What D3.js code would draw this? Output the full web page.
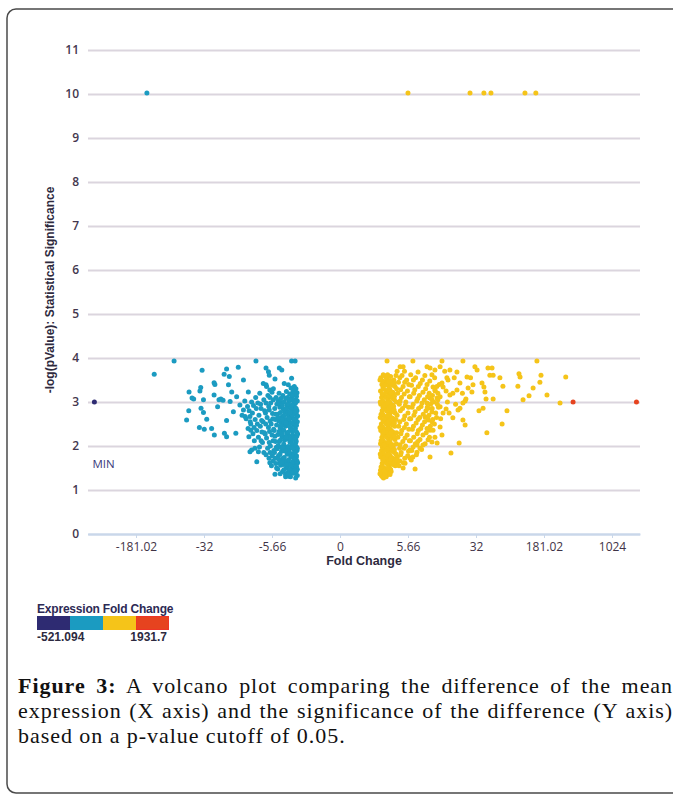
<!DOCTYPE html>
<html>
<head>
<meta charset="utf-8">
<script src="https://cdn.jsdelivr.net/npm/d3@7"></script>
<style>
  body { margin: 0; background: #fff; }
  svg { display: block; }
</style>
</head>
<body>
<svg id="chart"></svg>
<script>
const width = 673;
const height = 798;

// axis ticks (x is log2 fold change, labelled as fold change)
const yTicks = [0, 1, 2, 3, 4, 5, 6, 7, 8, 9, 10, 11];
const xTickValues = [-7.5, -5, -2.5, 0, 2.5, 5, 7.5, 10];
const xTickLabels = ["-181.02", "-32", "-5.66", "0", "5.66", "32", "181.02", "1024"];

// legend
const legendColors = ["#2e2b72", "#1b9bc1", "#f5c419", "#e6431f"];
const legendBreaks = [-9, 0, 8.45];
const legendLabels = ["-521.094", "1931.7"];

// genes: [log2 fold change, -log10 p]
const minGene = [[-9.03, 3.0]];
const maxGenes = [[8.57, 3.0], [10.9, 3.0]];

const topGenes = [
  [-7.1, 10.02], [2.5, 10.02], [4.78, 10.02], [5.29, 10.02], [5.55, 10.02], [6.8, 10.02], [7.2, 10.02]
];

const downGenes = [
  [-6.1, 3.93], [-6.83, 3.63], [-5.07, 3.72], [-5.55, 3.23], [-5.64, 2.59], [-5.56, 2.8], [-5.15, 3.25],
  [-5.12, 3.33], [-5.44, 3.09], [-5.38, 3.07], [-5.02, 3.05], [-5.11, 2.86], [-5.02, 2.76], [-4.9, 2.61],
  [-5.17, 2.42], [-4.99, 2.38], [-4.72, 2.4], [-4.62, 2.25], [-4.63, 3.44], [-4.6, 3.4], [-4.63, 3.16],
  [-4.45, 3.05], [-4.38, 3.07], [-4.3, 3.04], [-4.5, 2.89], [-4.26, 3.63], [-4.17, 3.75], [-4.07, 3.58],
  [-4.1, 3.39], [-3.74, 3.79], [-3.98, 3.23], [-4.04, 3.01], [-3.92, 2.78], [-4.17, 2.58], [-4.25, 2.29],
  [-4.17, 2.21], [-3.83, 2.29], [-3.55, 3.5], [-3.68, 2.93], [-3.55, 2.82], [-3.8, 3.12], [-3.37, 3.23],
  [-3.31, 2.67], [-3.49, 2.67], [-3.28, 2.36], [-3.35, 2.21], [-3.31, 1.87], [-3.25, 1.91], [-3.13, 1.95],
  [-3.0, 1.87], [-3.06, 1.64], [-3.09, 3.93], [-2.72, 3.77], [-2.63, 3.69], [-2.6, 3.61], [-2.23, 3.77],
  [-2.14, 3.73], [-2.39, 3.52], [-1.78, 3.93], [-1.65, 3.93], [-1.78, 3.54], [-2.05, 3.42], [-1.9, 3.39],
  [-2.82, 3.42], [-2.72, 3.39], [-1.68, 3.35], [-1.62, 3.3], [-1.8, 3.32],
  [-1.58, 3.21], [-1.62, 3.05], [-1.66, 2.88], [-1.6, 2.71], [-1.57, 2.55], [-1.64, 2.4], [-1.59, 2.22],
  [-1.63, 2.07], [-1.58, 1.9], [-1.61, 1.74], [-1.65, 1.58], [-1.6, 1.43], [-1.57, 1.33],
  [-1.72, 3.26], [-1.76, 3.12], [-1.7, 2.97], [-1.74, 2.81], [-1.78, 2.64], [-1.71, 2.49], [-1.75, 2.33],
  [-1.69, 2.16], [-1.77, 2.0], [-1.72, 1.83], [-1.7, 1.67], [-1.76, 1.51], [-1.73, 1.38],
  [-1.85, 3.18], [-1.88, 3.02], [-1.83, 2.86], [-1.9, 2.7], [-1.86, 2.55], [-1.82, 2.39], [-1.89, 2.24],
  [-1.84, 2.09], [-1.87, 1.93], [-1.81, 1.77], [-1.91, 1.62], [-1.85, 1.46], [-1.88, 1.31],
  [-1.97, 3.24], [-2.0, 3.08], [-1.95, 2.93], [-2.03, 2.77], [-1.98, 2.6], [-2.01, 2.45], [-1.96, 2.29],
  [-2.04, 2.13], [-1.99, 1.97], [-1.94, 1.81], [-2.02, 1.66], [-1.97, 1.5], [-2.0, 1.36],
  [-2.1, 3.15], [-2.14, 2.99], [-2.08, 2.83], [-2.12, 2.67], [-2.16, 2.52], [-2.09, 2.36], [-2.13, 2.2],
  [-2.07, 2.04], [-2.15, 1.88], [-2.1, 1.72], [-2.18, 1.56], [-2.11, 1.42],
  [-2.24, 3.2], [-2.27, 3.03], [-2.21, 2.88], [-2.3, 2.72], [-2.25, 2.57], [-2.2, 2.41], [-2.28, 2.26],
  [-2.23, 2.1], [-2.31, 1.94], [-2.26, 1.78], [-2.22, 1.62], [-2.29, 1.48],
  [-1.6, 3.13], [-1.64, 2.97], [-1.58, 2.8], [-1.62, 2.63], [-1.67, 2.47], [-1.59, 2.31], [-1.63, 2.15],
  [-1.6, 1.98], [-1.66, 1.82], [-1.58, 1.66], [-1.62, 1.5], [-1.64, 1.38],
  [-1.79, 3.19], [-1.73, 3.04], [-1.8, 2.89], [-1.77, 2.72], [-1.69, 2.57], [-1.8, 2.41], [-1.74, 2.25],
  [-1.79, 2.08], [-1.68, 1.92], [-1.79, 1.75], [-1.73, 1.59], [-1.81, 1.44],
  [-1.93, 3.1], [-1.91, 2.95], [-1.93, 2.78], [-1.88, 2.62], [-1.94, 2.47], [-1.91, 2.31], [-1.93, 2.16],
  [-1.9, 1.99], [-1.95, 1.85], [-1.89, 1.69], [-1.93, 1.54], [-1.92, 1.4],
  [-2.05, 3.0], [-2.06, 2.69], [-2.05, 2.52], [-2.07, 2.36], [-2.03, 2.21], [-2.06, 1.89], [-2.05, 1.74],
  [-2.07, 1.58], [-2.06, 1.46],
  [-2.18, 3.08], [-2.19, 2.76], [-2.2, 2.6], [-2.17, 2.45], [-2.19, 2.29], [-2.2, 2.13], [-2.17, 1.97],
  [-2.21, 1.81], [-2.19, 1.66],
  [-1.63, 1.27], [-1.82, 1.3], [-2.0, 1.3], [-2.2, 1.37], [-2.39, 1.36], [-1.84, 1.45],
  [-2.35, 3.1], [-2.4, 2.85], [-2.38, 2.6], [-2.42, 2.35], [-2.37, 2.1], [-2.41, 1.85], [-2.36, 1.6],
  [-2.5, 3.22], [-2.55, 2.98], [-2.48, 2.74], [-2.53, 2.5], [-2.5, 2.25], [-2.56, 2.0], [-2.49, 1.78],
  [-2.52, 1.55], [-2.65, 3.15], [-2.62, 2.9], [-2.68, 2.65], [-2.63, 2.42], [-2.7, 2.18], [-2.66, 1.95],
  [-2.61, 1.72], [-2.8, 3.05], [-2.77, 2.8], [-2.83, 2.55], [-2.78, 2.3], [-2.85, 2.08], [-2.8, 1.85],
  [-2.95, 3.2], [-2.92, 2.95], [-2.98, 2.7], [-2.93, 2.45], [-3.0, 2.2], [-2.96, 1.98],
  [-3.1, 3.1], [-3.08, 2.85], [-3.12, 2.6], [-3.06, 2.35], [-3.15, 2.12],
  [-3.25, 3.0], [-3.22, 2.75], [-3.28, 2.5], [-3.2, 2.28], [-3.4, 2.9], [-3.45, 2.62], [-3.38, 2.4],
  [-2.45, 3.3], [-2.7, 3.35], [-2.58, 3.27],
  [-2.32, 2.95], [-2.36, 2.72], [-2.33, 2.48], [-2.39, 2.22], [-2.34, 1.97], [-2.38, 1.72], [-2.33, 1.5],
  [-2.45, 3.05], [-2.47, 2.62], [-2.44, 2.38], [-2.46, 2.12], [-2.43, 1.9], [-2.46, 1.66], [-2.58, 3.1],
  [-2.6, 2.82], [-2.57, 2.57], [-2.59, 2.33], [-2.6, 2.08], [-2.57, 1.85], [-2.58, 1.62],
  [-2.72, 2.98], [-2.74, 2.75], [-2.73, 2.5], [-2.75, 2.27], [-2.72, 1.8], [-2.9, 2.85], [-2.88, 2.58],
  [-2.87, 2.32], [-2.9, 2.12], [-3.02, 2.98], [-3.04, 2.5], [-3.18, 2.92], [-3.16, 2.42], [-3.34, 2.8],
  [-3.3, 2.55], [-3.5, 3.02], [-3.6, 2.7],
  [-1.57, 3.02], [-1.61, 2.85], [-1.56, 2.68], [-1.6, 2.47], [-1.56, 2.27], [-1.61, 2.11], [-1.57, 1.95],
  [-1.6, 1.78], [-1.56, 1.62], [-1.6, 1.54], [-1.57, 1.47],
  [-1.67, 3.18], [-1.66, 3.0], [-1.65, 2.78], [-1.68, 2.6], [-1.66, 2.36], [-1.64, 2.19], [-1.67, 2.03],
  [-1.65, 1.86], [-1.68, 1.7], [-1.66, 1.44],
  [-1.75, 3.15], [-1.77, 2.93], [-1.75, 2.7], [-1.78, 2.52], [-1.76, 2.15], [-1.74, 1.95], [-1.77, 1.79],
  [-1.75, 1.63], [-1.78, 1.4],
  [-1.85, 3.05], [-1.84, 2.76], [-1.87, 2.46], [-1.85, 2.17], [-1.86, 1.86], [-1.84, 1.56], [-1.9, 1.36],
  [-1.98, 2.85], [-1.99, 2.53], [-1.97, 2.2], [-2.0, 1.9], [-1.98, 1.58],
  [-2.12, 2.92], [-2.13, 2.6], [-2.14, 2.28], [-2.11, 1.96], [-2.13, 1.64],
  [-2.26, 2.98], [-2.27, 2.65], [-2.24, 2.33], [-2.27, 2.01], [-2.25, 1.7]
];

const upGenes = [
  [1.73, 3.93], [2.68, 3.93], [3.75, 3.93], [4.52, 3.93], [7.24, 3.93], [2.21, 3.8], [2.32, 3.8],
  [3.2, 3.8], [3.31, 3.77], [3.49, 3.73], [3.68, 3.8], [4.04, 3.73], [4.3, 3.68], [4.96, 3.8],
  [5.04, 3.73], [5.44, 3.77], [5.59, 3.77], [5.51, 3.61], [5.63, 3.61], [5.88, 3.55], [6.58, 3.64],
  [6.62, 3.57], [7.39, 3.61], [8.3, 3.57], [7.35, 3.45], [7.1, 3.32], [6.54, 3.36], [5.99, 3.36],
  [7.61, 3.16], [6.95, 3.14], [6.73, 3.05], [8.09, 2.98], [5.63, 3.07], [5.37, 3.07], [5.26, 2.86],
  [5.11, 2.8], [6.14, 2.8], [5.96, 2.5], [5.4, 2.3], [4.63, 3.07], [4.6, 3.02], [4.52, 2.98],
  [4.34, 2.82], [4.41, 2.86], [4.52, 2.59], [4.6, 2.48], [4.01, 2.75], [4.15, 2.64], [3.9, 2.84],
  [3.68, 2.89], [3.79, 2.75], [4.71, 3.32], [4.85, 3.23], [4.89, 3.39], [5.22, 3.43], [5.29, 3.34],
  [5.33, 3.23], [4.67, 3.57], [4.41, 3.43], [4.3, 3.27], [4.15, 3.2], [4.04, 3.16], [3.93, 3.55],
  [3.97, 3.5], [3.75, 3.43], [3.79, 3.34], [3.42, 3.34], [3.49, 3.27], [3.6, 3.2], [3.57, 3.09],
  [3.6, 3.05], [3.31, 3.09], [3.38, 3.05], [3.2, 2.98], [3.24, 2.86], [3.38, 2.77], [3.13, 2.66],
  [3.24, 2.59], [3.38, 2.55], [3.31, 2.36], [3.42, 2.36], [3.68, 2.43], [3.75, 2.25], [3.49, 2.2],
  [3.57, 2.07], [3.24, 2.14], [3.38, 2.09], [3.05, 2.02], [2.94, 1.95], [2.83, 1.86], [2.57, 1.91],
  [2.57, 1.73], [2.68, 1.75], [2.39, 1.61], [2.02, 1.64], [2.1, 1.61], [2.83, 2.02], [2.32, 1.5],
  [2.76, 1.48], [3.31, 1.75], [4.08, 1.84], [4.38, 2.07],
  [1.5, 3.55], [1.54, 3.4], [1.49, 3.25], [1.53, 3.1], [1.5, 2.95], [1.55, 2.8], [1.48, 2.65],
  [1.52, 2.5], [1.5, 2.35], [1.54, 2.2], [1.49, 2.05], [1.53, 1.9], [1.5, 1.75], [1.55, 1.6],
  [1.49, 1.45], [1.52, 1.33],
  [1.62, 3.6], [1.66, 3.45], [1.6, 3.3], [1.64, 3.15], [1.61, 3.0], [1.67, 2.85], [1.6, 2.7],
  [1.65, 2.55], [1.62, 2.4], [1.66, 2.25], [1.6, 2.1], [1.64, 1.95], [1.61, 1.8], [1.67, 1.65],
  [1.62, 1.5], [1.65, 1.38],
  [1.74, 3.52], [1.78, 3.37], [1.72, 3.22], [1.76, 3.07], [1.73, 2.92], [1.79, 2.77], [1.72, 2.62],
  [1.77, 2.47], [1.74, 2.32], [1.78, 2.17], [1.72, 2.02], [1.76, 1.87], [1.73, 1.72], [1.79, 1.57],
  [1.74, 1.42], [1.7, 1.3],
  [1.86, 3.58], [1.9, 3.42], [1.84, 3.27], [1.88, 3.12], [1.85, 2.97], [1.91, 2.82], [1.84, 2.67],
  [1.89, 2.52], [1.86, 2.37], [1.9, 2.22], [1.84, 2.07], [1.88, 1.92], [1.85, 1.77], [1.91, 1.62],
  [1.86, 1.47],
  [1.98, 3.5], [2.02, 3.35], [1.96, 3.2], [2.0, 3.05], [1.97, 2.9], [2.03, 2.75], [1.96, 2.6],
  [2.01, 2.45], [1.98, 2.3], [2.02, 2.15], [1.96, 2.0], [2.0, 1.85], [1.97, 1.7], [2.03, 1.55],
  [1.56, 3.48], [1.58, 3.33], [1.55, 3.18], [1.57, 3.03], [1.58, 2.88], [1.56, 2.73], [1.58, 2.58],
  [1.56, 2.43], [1.57, 2.28], [1.58, 2.13], [1.56, 1.98], [1.58, 1.83], [1.57, 1.68], [1.56, 1.53],
  [1.58, 1.4],
  [1.69, 3.55], [1.7, 3.4], [1.68, 3.25], [1.7, 3.1], [1.69, 2.95], [1.71, 2.8], [1.68, 2.65],
  [1.7, 2.5], [1.69, 2.35], [1.71, 2.2], [1.68, 2.05], [1.7, 1.9], [1.69, 1.75], [1.71, 1.6],
  [1.68, 1.46],
  [1.81, 3.46], [1.82, 3.3], [1.8, 3.15], [1.82, 3.0], [1.81, 2.85], [1.83, 2.7], [1.8, 2.55],
  [1.82, 2.4], [1.81, 2.25], [1.83, 2.1], [1.8, 1.95], [1.82, 1.8], [1.81, 1.65], [1.8, 1.52],
  [1.93, 3.38], [1.94, 3.22], [1.93, 3.08], [1.94, 2.93], [1.92, 2.78], [1.94, 2.63], [1.93, 2.48],
  [1.92, 2.33], [1.94, 2.18], [1.93, 2.03], [1.92, 1.88], [1.94, 1.73], [1.93, 1.58],
  [1.6, 1.27], [1.72, 1.34], [1.56, 1.3], [1.84, 1.35], [1.65, 1.39], [1.47, 3.5],
  [2.1, 3.7], [2.15, 3.45], [2.12, 3.2], [2.18, 2.95], [2.1, 2.7], [2.16, 2.45], [2.13, 2.2],
  [2.19, 1.95], [2.11, 1.75], [2.17, 1.55],
  [2.28, 3.6], [2.32, 3.35], [2.26, 3.1], [2.3, 2.85], [2.34, 2.6], [2.27, 2.35], [2.31, 2.1],
  [2.25, 1.85], [2.33, 1.62],
  [2.45, 3.5], [2.48, 3.25], [2.42, 3.0], [2.5, 2.75], [2.44, 2.5], [2.47, 2.25], [2.41, 2.0],
  [2.49, 1.78],
  [2.6, 3.62], [2.63, 3.38], [2.58, 3.12], [2.65, 2.88], [2.6, 2.62], [2.66, 2.38], [2.59, 2.12],
  [2.64, 1.9], [2.62, 1.68],
  [2.78, 3.55], [2.75, 3.28], [2.82, 3.02], [2.76, 2.78], [2.8, 2.52], [2.84, 2.28], [2.77, 2.05],
  [2.81, 1.8],
  [2.95, 3.42], [2.92, 3.15], [2.98, 2.9], [2.93, 2.65], [2.97, 2.4], [2.94, 2.15], [3.0, 1.92],
  [3.12, 3.6], [3.15, 3.3], [3.1, 3.05], [3.16, 2.8], [3.11, 2.55], [3.17, 2.3], [3.13, 2.05],
  [3.3, 3.48], [3.28, 3.2], [3.33, 2.95], [3.27, 2.7], [3.32, 2.45], [3.29, 2.2],
  [3.48, 3.55], [3.5, 3.25], [3.45, 3.0], [3.52, 2.75], [3.47, 2.5],
  [3.65, 3.4], [3.68, 3.12], [3.62, 2.88], [3.7, 2.62],
  [1.48, 3.0], [1.51, 2.72], [1.47, 2.42], [1.51, 2.12], [1.48, 1.82], [1.51, 1.52], [1.47, 1.37],
  [1.59, 3.62], [1.63, 3.38], [1.6, 2.92], [1.63, 2.62], [1.6, 2.32], [1.63, 2.02], [1.6, 1.72],
  [1.63, 1.43],
  [1.75, 3.62], [1.77, 3.28], [1.75, 2.98], [1.76, 2.7], [1.75, 2.4], [1.77, 2.09], [1.75, 1.8],
  [1.77, 1.5],
  [1.87, 3.48], [1.88, 3.2], [1.87, 2.9], [1.88, 2.6], [1.87, 2.3], [1.88, 2.0], [1.87, 1.7],
  [1.88, 1.42],
  [1.99, 3.42], [2.0, 3.13], [1.99, 2.82], [2.0, 2.52], [1.99, 2.22], [2.0, 1.92], [1.99, 1.62],
  [2.06, 3.6], [2.08, 3.3], [2.07, 3.0], [2.06, 2.6], [2.08, 2.3], [2.07, 2.05], [2.06, 1.82],
  [2.08, 1.68],
  [2.2, 3.55], [2.23, 3.28], [2.21, 3.02], [2.22, 2.8], [2.2, 2.55], [2.24, 2.28], [2.21, 2.03],
  [2.23, 1.8], [2.2, 1.66],
  [2.37, 3.7], [2.38, 3.45], [2.36, 3.18], [2.4, 2.92], [2.38, 2.68], [2.37, 2.42], [2.39, 2.18],
  [2.36, 1.95], [2.38, 1.72],
  [2.53, 3.4], [2.55, 3.12], [2.52, 2.88], [2.56, 2.62], [2.53, 2.38], [2.55, 2.12], [2.52, 1.88],
  [2.7, 3.5], [2.71, 3.2], [2.69, 2.95], [2.72, 2.7], [2.7, 2.45], [2.71, 2.2], [2.69, 1.98],
  [2.87, 3.68], [2.88, 3.35], [2.86, 3.08], [2.89, 2.85], [2.87, 2.6], [2.88, 2.35], [2.86, 2.1],
  [3.03, 3.5], [3.05, 3.22], [3.02, 2.98], [3.06, 2.72], [3.03, 2.48], [3.05, 2.25],
  [3.2, 3.4], [3.22, 3.12], [3.21, 2.88], [3.23, 2.62], [3.2, 2.4],
  [3.38, 3.62], [3.4, 3.15], [3.39, 2.85], [3.41, 2.6],
  [3.56, 3.35], [3.58, 2.95], [3.55, 2.65],
  [3.85, 3.7], [3.9, 3.25], [3.95, 3.0], [4.2, 3.55], [4.25, 2.95], [4.5, 3.2], [4.8, 3.55]
];

const captionLines = [
  ["Figure 3:", " A volcano plot comparing the difference of the mean"],
  ["", "expression (X axis) and the significance of the difference (Y axis)"],
  ["", "based on a p-value cutoff of 0.05."]
];

const svg = d3.select("#chart").attr("width", width).attr("height", height);

// frame
svg.append("rect")
  .attr("x", 7).attr("y", 9)
  .attr("width", 690).attr("height", 784)
  .attr("rx", 9)
  .attr("fill", "none")
  .attr("stroke", "#4a4a4a")
  .attr("stroke-width", 1.5);

const x = d3.scaleLinear().domain([-9.265, 11.03]).range([88, 640]);
const y = d3.scaleLinear().domain([0, 11]).range([534, 50]);
const color = d3.scaleThreshold().domain(legendBreaks).range(legendColors);

const tickFont = "'Open Sans', sans-serif";
const labelFont = "'Liberation Sans Narrow', 'Liberation Sans', Arial, sans-serif";

// y grid + labels
const yAxis = d3.axisLeft(y)
  .tickValues(yTicks)
  .tickSize(-(640 - 88))
  .tickPadding(9)
  .tickFormat(d3.format("d"));

const gy = svg.append("g").attr("transform", "translate(88,0)").call(yAxis);
gy.select(".domain").remove();
gy.selectAll(".tick line")
  .attr("stroke", d => d === 0 ? "#c9d7ea" : "#dbd5de")
  .attr("stroke-width", 2);
gy.selectAll(".tick text")
  .attr("fill", "#44374e")
  .style("font-family", tickFont)
  .style("font-size", "12px")
  .style("font-weight", 600);

// x axis
const xAxis = d3.axisBottom(x)
  .tickValues(xTickValues)
  .tickFormat((d, i) => xTickLabels[i])
  .tickSize(4)
  .tickSizeOuter(0)
  .tickPadding(4);

const gx = svg.append("g").attr("transform", "translate(0,534)").call(xAxis);
gx.select(".domain").attr("stroke", "#c9d7ea").attr("stroke-width", 2);
gx.selectAll(".tick line").attr("stroke", "#c9d7ea");
gx.selectAll(".tick text")
  .attr("fill", "#3f3346")
  .style("font-family", tickFont)
  .style("font-size", "12px");

svg.append("text")
  .attr("x", 364).attr("y", 565)
  .attr("text-anchor", "middle")
  .attr("fill", "#2e2a3e")
  .style("font-family", labelFont)
  .style("font-size", "12.5px")
  .style("font-weight", "bold")
  .text("Fold Change");

svg.append("text")
  .attr("transform", "translate(54,290) rotate(-90)")
  .attr("text-anchor", "middle")
  .attr("fill", "#2e2a3e")
  .style("font-family", labelFont)
  .style("font-size", "12px")
  .style("font-weight", "bold")
  .text("-log(pValue): Statistical Significance");

// points
const points = [].concat(minGene, downGenes, topGenes, upGenes, maxGenes);
svg.append("g")
  .selectAll("circle")
  .data(points)
  .join("circle")
  .attr("cx", d => x(d[0]))
  .attr("cy", d => y(d[1]))
  .attr("r", 2.5)
  .attr("fill", d => color(d[0]));

svg.append("text")
  .attr("x", x(minGene[0][0]) - 2).attr("y", 468)
  .attr("fill", "#3b3a7a")
  .style("font-family", tickFont)
  .style("font-size", "11.5px")
  .text("MIN");

// legend
const legend = svg.append("g").attr("transform", "translate(37,0)");
legend.append("text")
  .attr("x", 0).attr("y", 613)
  .attr("fill", "#2d2a55")
  .style("font-family", "'Liberation Sans', Arial, sans-serif")
  .style("font-size", "12px")
  .style("font-weight", "bold")
  .style("letter-spacing", "-0.2px")
  .text("Expression Fold Change");

const segW = 33;
legend.selectAll("rect.seg")
  .data(legendColors)
  .join("rect")
  .attr("class", "seg")
  .attr("x", (d, i) => i * segW)
  .attr("y", 616)
  .attr("width", segW)
  .attr("height", 14)
  .attr("fill", d => d);
legend.append("rect")
  .attr("x", 3 * segW + 0.5).attr("y", 616.5)
  .attr("width", segW - 1).attr("height", 13)
  .attr("fill", "none").attr("stroke", "#ee3526").attr("stroke-width", 1);

legend.selectAll("text.lab")
  .data(legendLabels)
  .join("text")
  .attr("class", "lab")
  .attr("x", (d, i) => i === 0 ? 0 : 4 * segW - 2)
  .attr("y", 641)
  .attr("text-anchor", (d, i) => i === 0 ? "start" : "end")
  .attr("fill", "#2d2a40")
  .style("font-family", "'Liberation Sans', Arial, sans-serif")
  .style("font-size", "12px")
  .style("font-weight", "bold")
  .text(d => d);

// caption, justified on the first two lines
const capX = 18, capW = 655;
captionLines.forEach((ln, i) => {
  const t = svg.append("text")
    .attr("x", capX).attr("y", 693 + i * 24.8)
    .attr("fill", "#111")
    .style("font-family", "'Liberation Serif', 'DejaVu Serif', serif")
    .style("font-size", "22px")
    .style("letter-spacing", "0.95px");
  if (ln[0]) t.append("tspan").style("font-weight", "bold").text(ln[0]);
  t.append("tspan").text(ln[1]);
  if (i < 2) {
    const full = ln[0] + ln[1];
    const spaces = (full.match(/ /g) || []).length;
    const len = t.node().getComputedTextLength();
    t.style("word-spacing", ((capW - len) / spaces) + "px");
  }
});
</script>
</body>
</html>
